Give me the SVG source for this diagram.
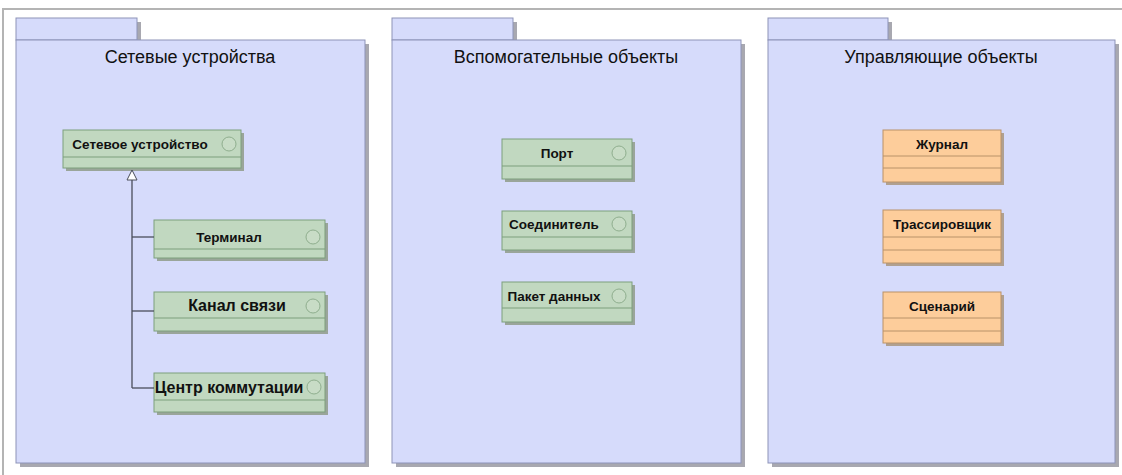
<svg xmlns="http://www.w3.org/2000/svg" width="1122" height="475" viewBox="0 0 1122 475">
<defs>
<style>
.frame{fill:none;stroke:#b4b4b4;stroke-width:2}
.pkshadow{fill:#a8a8b0}
.pk{fill:#d6dbfb;stroke:#8d93b8;stroke-width:1}
.title{font-family:"Liberation Sans",Arial,sans-serif;font-size:18px;fill:#111;text-anchor:middle}
.cshadow{fill:#9aa59a}
.cls{fill:#c1d8c0;stroke:#7d9f7d;stroke-width:1}
.div{stroke:#7d9f7d;stroke-width:1}
.ico{fill:#c8dcc6;stroke:#8fae8e;stroke-width:1}
.ocls{fill:#fdcd9b;stroke:#b99269;stroke-width:1}
.odiv{stroke:#b99269;stroke-width:1}
.oshadow{fill:#b0a090}
.name{font-family:"Liberation Sans",Arial,sans-serif;font-size:13.5px;font-weight:bold;fill:#111;text-anchor:middle}
.name2{font-family:"Liberation Sans",Arial,sans-serif;font-size:16px;font-weight:bold;fill:#111;text-anchor:middle}
.conn{fill:none;stroke:#4a4e5a;stroke-width:1.3}
</style>
<marker id="gen" markerWidth="12" markerHeight="12" refX="11" refY="6" orient="auto" markerUnits="userSpaceOnUse" viewBox="0 0 12 12">
<path d="M11,6 L1,1 L1,11 Z" fill="#ffffff" stroke="#4a4e5a" stroke-width="1"/>
</marker>
</defs>
<rect width="1122" height="475" fill="#ffffff"/>
<path class="frame" d="M3,475 V9 H1122"/>

<g id="pkg-network">
<rect class="pkshadow" x="20" y="22" width="121" height="22"/>
<rect class="pkshadow" x="20" y="44" width="349" height="423"/>
<rect class="pk" x="16" y="18" width="121" height="22"/>
<rect class="pk" x="16" y="40" width="349" height="423"/>
<text class="title" x="190" y="63">Сетевые устройства</text>
</g>
<g id="pkg-aux">
<rect class="pkshadow" x="396" y="22" width="121" height="22"/>
<rect class="pkshadow" x="396" y="44" width="349" height="423"/>
<rect class="pk" x="392" y="18" width="121" height="22"/>
<rect class="pk" x="392" y="40" width="349" height="423"/>
<text class="title" x="566" y="63">Вспомогательные объекты</text>
</g>
<g id="pkg-control">
<rect class="pkshadow" x="772" y="22" width="120" height="22"/>
<rect class="pkshadow" x="772" y="44" width="347" height="423"/>
<rect class="pk" x="768" y="18" width="120" height="22"/>
<rect class="pk" x="768" y="40" width="347" height="423"/>
<text class="title" x="941" y="63">Управляющие объекты</text>
</g>

<g id="cls-netdevice">
<rect class="cshadow" x="66" y="133" width="178" height="38"/>
<rect class="cls" x="63" y="130" width="178" height="38"/>
<line class="div" x1="63" y1="157" x2="241" y2="157"/>
<circle class="ico" cx="229" cy="144" r="7"/>
<text class="name" x="140" y="149">Сетевое устройство</text>
</g>
<g id="cls-terminal">
<rect class="cshadow" x="157" y="223" width="171" height="38"/>
<rect class="cls" x="154" y="220" width="171" height="38"/>
<line class="div" x1="154" y1="249" x2="325" y2="249"/>
<circle class="ico" cx="313" cy="237" r="7"/>
<text class="name" x="229" y="242">Терминал</text>
</g>
<g id="cls-channel">
<rect class="cshadow" x="157" y="295" width="171" height="39"/>
<rect class="cls" x="154" y="292" width="171" height="39"/>
<line class="div" x1="154" y1="318" x2="325" y2="318"/>
<circle class="ico" cx="313" cy="306" r="7"/>
<text class="name2" x="237" y="311">Канал связи</text>
</g>
<g id="cls-switch">
<rect class="cshadow" x="157" y="376" width="171" height="39"/>
<rect class="cls" x="154" y="373" width="171" height="39"/>
<line class="div" x1="154" y1="400" x2="325" y2="400"/>
<circle class="ico" cx="314" cy="387" r="7"/>
<text class="name2" x="229" y="393" font-size="14.5px">Центр коммутации</text>
</g>

<g id="cls-port">
<rect class="cshadow" x="505" y="142" width="130" height="40"/>
<rect class="cls" x="502" y="139" width="130" height="40"/>
<line class="div" x1="502" y1="166" x2="632" y2="166"/>
<circle class="ico" cx="619" cy="153" r="7"/>
<text class="name" x="557" y="158">Порт</text>
</g>
<g id="cls-connector">
<rect class="cshadow" x="505" y="214" width="130" height="39"/>
<rect class="cls" x="502" y="211" width="130" height="39"/>
<line class="div" x1="502" y1="237" x2="632" y2="237"/>
<circle class="ico" cx="619" cy="224" r="7"/>
<text class="name" x="554" y="229">Соединитель</text>
</g>
<g id="cls-packet">
<rect class="cshadow" x="505" y="285" width="130" height="40"/>
<rect class="cls" x="502" y="282" width="130" height="40"/>
<line class="div" x1="502" y1="308" x2="632" y2="308"/>
<circle class="ico" cx="619" cy="296" r="7"/>
<text class="name" x="554" y="301">Пакет данных</text>
</g>

<g id="cls-journal">
<rect class="oshadow" x="886" y="133" width="118" height="52"/>
<rect class="ocls" x="883" y="130" width="118" height="52"/>
<line class="odiv" x1="883" y1="156" x2="1001" y2="156"/>
<line class="odiv" x1="883" y1="168" x2="1001" y2="168"/>
<text class="name" x="942" y="149">Журнал</text>
</g>
<g id="cls-tracer">
<rect class="oshadow" x="886" y="213" width="118" height="53"/>
<rect class="ocls" x="883" y="210" width="118" height="53"/>
<line class="odiv" x1="883" y1="237" x2="1001" y2="237"/>
<line class="odiv" x1="883" y1="250" x2="1001" y2="250"/>
<text class="name" x="942" y="229">Трассировщик</text>
</g>
<g id="cls-script">
<rect class="oshadow" x="886" y="295" width="118" height="51"/>
<rect class="ocls" x="883" y="292" width="118" height="51"/>
<line class="odiv" x1="883" y1="318" x2="1001" y2="318"/>
<line class="odiv" x1="883" y1="331" x2="1001" y2="331"/>
<text class="name" x="942" y="311">Сценарий</text>
</g>

<g id="connectors">
<path class="conn" d="M132,388 V170" marker-end="url(#gen)"/>
<path class="conn" d="M132,237 H154"/>
<path class="conn" d="M132,311 H154"/>
<path class="conn" d="M132,388 H154"/>
</g>
</svg>
